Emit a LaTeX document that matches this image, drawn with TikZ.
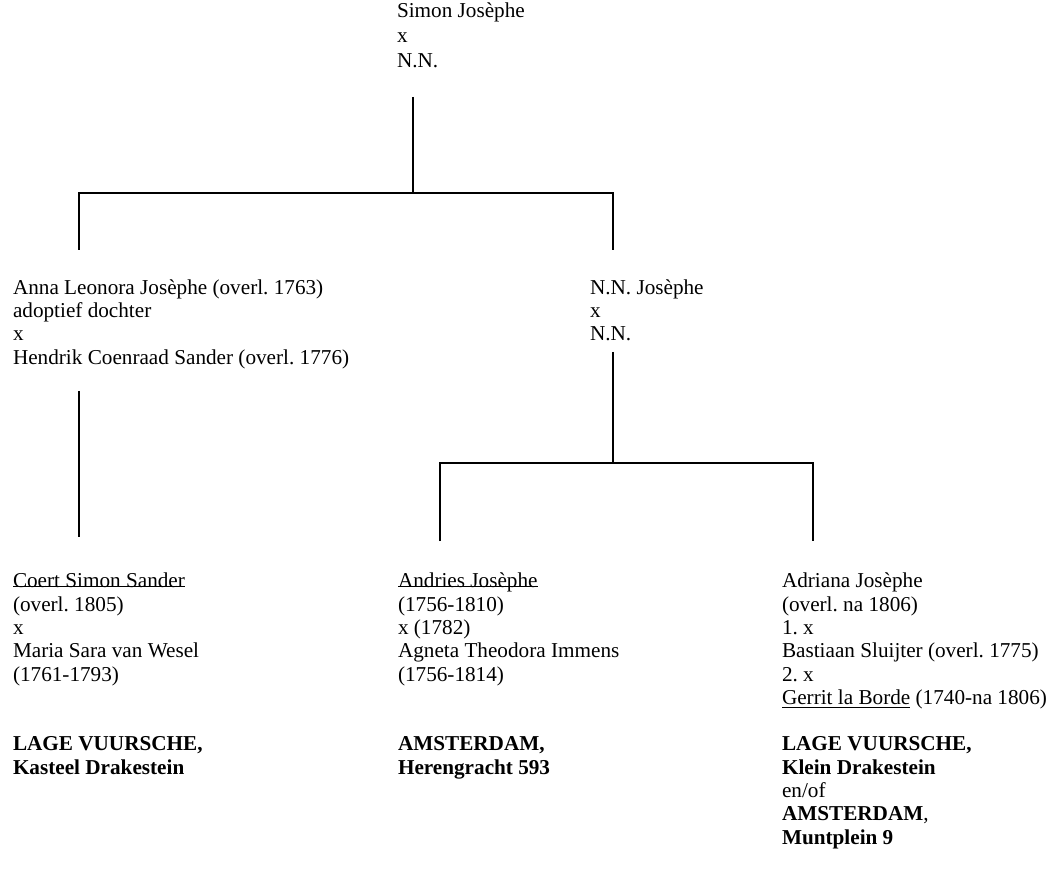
\documentclass[tikz,border=0pt]{standalone}
\usepackage{fontspec}
\setmainfont{Liberation Serif}
\frenchspacing
\newcommand\bul[1]{\leavevmode\setbox0=\hbox{#1}\rlap{\rule[0.4pt]{\wd0}{0.5pt}}\box0}
\tikzset{
  blk/.style={anchor=north west, inner sep=0pt, outer sep=0pt, align=left,
    font=\fontsize{10.6pt}{11.65pt}\selectfont\frenchspacing},
  ln/.style={line width=1pt, draw=black}
}
\begin{document}
\begin{tikzpicture}[x=0.5pt,y=-0.5pt]
\useasboundingbox (0,0) rectangle (1048,881);
% people
\node[blk, font=\fontsize{10.6pt}{12.5pt}\selectfont\frenchspacing] (simon) at (397,0.5) {\strut Simon Josèphe\\ x\\ N.N.};
\node[blk] (anna) at (13,278) {\strut Anna Leonora Josèphe (overl. 1763)\\ adoptief dochter\\ x\\ Hendrik Coenraad Sander (overl. 1776)};
\node[blk] (nnj) at (590,278) {\strut N.N. Josèphe\\ x\\ N.N.};
\node[blk] (coert) at (13,571.5) {\strut\bul{Coert Simon Sander}\\ (overl. 1805)\\ x\\ Maria Sara van Wesel\\ (1761-1793)};
\node[blk] (andries) at (398,571.5) {\strut\bul{Andries Josèphe}\\ (1756-1810)\\ x (1782)\\ Agneta Theodora Immens\\ (1756-1814)};
\node[blk] (adriana) at (782,571.5) {\strut Adriana Josèphe\\ (overl. na 1806)\\ 1. x\\ Bastiaan Sluijter (overl. 1775)\\ 2. x\\ \underline{Gerrit la Borde} (1740-na 1806)};
% places
\node[blk] (pcoert) at (13,734.5) {\strut\textbf{LAGE VUURSCHE,}\\ \textbf{Kasteel Drakestein}};
\node[blk] (pandries) at (398,734.5) {\strut\textbf{AMSTERDAM,}\\ \textbf{Herengracht 593}};
\node[blk] (padriana) at (782,734.5) {\strut\textbf{LAGE VUURSCHE,}\\ \textbf{Klein Drakestein}\\ en/of\\ \textbf{AMSTERDAM},\\ \textbf{Muntplein 9}};
% junctions
\coordinate (s0) at (413,97);
\coordinate (s1) at (413,193);
\coordinate (hl) at (79,193);
\coordinate (hr) at (613,193);
\coordinate (dl) at (79,250);
\coordinate (dr) at (613,250);
\coordinate (a0) at (79,391);
\coordinate (a1) at (79,537);
\coordinate (n0) at (613,352);
\coordinate (n1) at (613,463);
\coordinate (bl) at (440,463);
\coordinate (br) at (813,463);
\coordinate (el) at (440,541);
\coordinate (er) at (813,541);
% connectors
\draw[ln] (s0) -- (s1);
\draw[ln] (dl) -- (hl) -- (hr) -- (dr);
\draw[ln] (a0) -- (a1);
\draw[ln] (n0) -- (n1);
\draw[ln] (el) -- (bl) -- (br) -- (er);
\end{tikzpicture}
\end{document}
